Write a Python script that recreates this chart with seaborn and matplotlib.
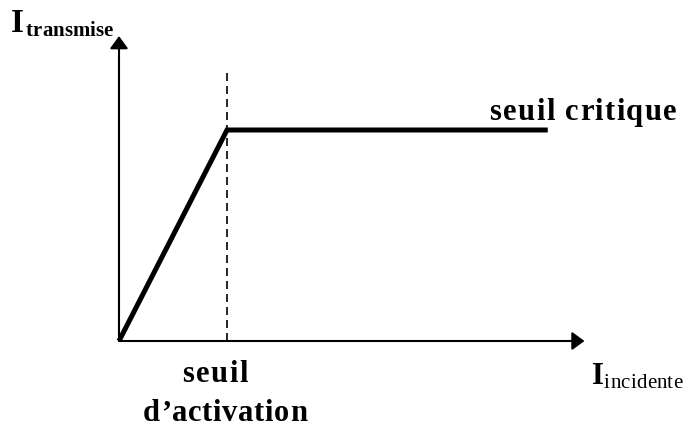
import matplotlib
matplotlib.use("Agg")
import matplotlib.pyplot as plt
import seaborn as sns
import pandas as pd
from matplotlib.font_manager import FontProperties, findfont
from matplotlib.ft2font import FT2Font

# Data (abstract units: activation threshold at x=1, critical level at y=1)
incident = [0.0, 1.0, 3.97]
transmitted = [0.0, 1.0, 1.0]
activation_x = 1.0
x_axis_end = 4.31
y_axis_end = 1.445
dash_top = 1.29

label_critique = "seuil critique"
label_activation_1 = "seuil"
label_activation_2 = "d\u2019activation"
ylabel_main, ylabel_sub = "I", "transmise"
xlabel_main, xlabel_sub = "I", "incidente"

sns.set_theme(style="white")
plt.rcParams["font.family"] = ["Liberation Serif", "DejaVu Serif"]

W, H = 685, 427
fig = plt.figure(figsize=(W / 100, H / 100), dpi=100)
ax = fig.add_axes([0, 0, 1, 1])
XS, YS = 108.0, 211.0       # pixels per data unit
X0, Y0 = 119.0, 342.0       # origin in image pixels
ax.set_xlim(-X0 / XS, (W - X0) / XS)
ax.set_ylim(-(H - Y0) / YS, Y0 / YS)
ax.axis("off")

df = pd.DataFrame({"x": incident, "y": transmitted})
sns.lineplot(data=df, x="x", y="y", sort=False, color="black", linewidth=3.6,
             ax=ax, solid_joinstyle="miter", solid_capstyle="butt")

arrow_kw = dict(arrowstyle="-|>,head_length=0.75,head_width=0.55", color="black",
                lw=1.5, shrinkA=0, shrinkB=0, mutation_scale=10)
ax.annotate("", xy=(x_axis_end, 0), xytext=(0, 0), arrowprops=arrow_kw)
ax.annotate("", xy=(0, y_axis_end), xytext=(0, 0), arrowprops=arrow_kw)

ax.vlines(activation_x, 0, dash_top, colors="black", linewidth=1.2,
          linestyles=(0, (4.8, 3)))


def px(xp, yp):
    """image pixel (y down) -> data coords"""
    return (xp - X0) / XS, (Y0 - yp) / YS


def tracked(xp, yp, s, size, weight="bold", tracking=0.0, ha="left"):
    """Draw text with extra letter spacing (pixels); yp is baseline."""
    fp = FontProperties(family="Liberation Serif", weight=weight, size=size)
    font = FT2Font(findfont(fp))
    font.set_size(size, 100)
    adv = [font.load_char(ord(c)).linearHoriAdvance / 65536 for c in s]
    total = sum(adv) + tracking * (len(s) - 1)
    x = xp - total / 2 if ha == "center" else xp
    for c, a in zip(s, adv):
        if c != " ":
            ax.text(*px(x, yp), c, fontsize=size, fontweight=weight,
                    ha="left", va="baseline", color="black")
        x += a + tracking


tracked(583, 120, label_critique, 22, tracking=1.4, ha="center")
tracked(215, 382, label_activation_1, 22, tracking=1.4, ha="center")
tracked(225, 421, label_activation_2, 22, tracking=0.7, ha="center")

# Y label
tracked(11, 32, ylabel_main, 24)
tracked(26, 36, ylabel_sub, 15, tracking=0.0)
# X label
tracked(592, 384, xlabel_main, 22)
tracked(604, 388, xlabel_sub, 15, weight="normal", tracking=0.25)

fig.savefig("out.png", dpi=100, facecolor="white")
